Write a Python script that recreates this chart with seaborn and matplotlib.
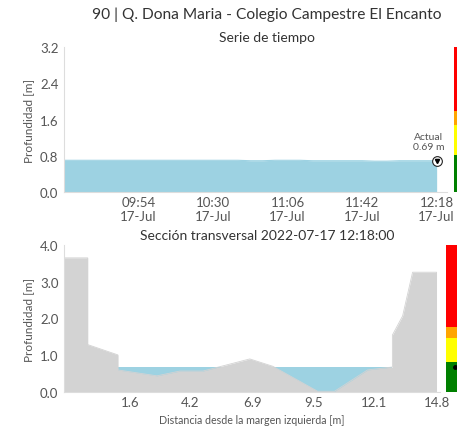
import numpy as np
import pandas as pd
import matplotlib
matplotlib.use("Agg")
import matplotlib.pyplot as plt
import matplotlib.dates as mdates
import seaborn as sns

# serie de tiempo (nivel cada 6 minutos)
times = pd.date_range("2022-07-17 09:18", "2022-07-17 12:18", freq="6min")
depth = [0.70, 0.70, 0.70, 0.70, 0.70, 0.70, 0.70, 0.70, 0.70, 0.70,
         0.70, 0.70, 0.70, 0.70, 0.70, 0.69, 0.69, 0.70, 0.70, 0.70,
         0.69, 0.69, 0.69, 0.69, 0.69, 0.68, 0.68, 0.69, 0.69, 0.69, 0.69]
actual = 0.69

# seccion transversal
dist = [-1.24, -0.22, -0.22, 1.08, 1.08, 2.76, 3.75, 4.74, 6.76, 7.75,
        9.68, 10.41, 11.83, 12.90, 12.90, 13.34, 13.77, 14.80, 14.80]
ground = [3.65, 3.65, 1.29, 1.01, 0.60, 0.44, 0.57, 0.57, 0.90, 0.70,
          0.02, 0.02, 0.60, 0.68, 1.55, 2.07, 3.26, 3.26, 0.0]
water_x = [1.08, 12.90]
xticks_sec = [1.6, 4.2, 6.9, 9.5, 12.1, 14.8]

# umbrales de alerta
limits = [0.0, 0.82, 1.47, 1.78]
alert_colors = ["green", "yellow", "orange", "red"]

water_c = "#9dd2e2"
ground_c = "#d3d3d3"
txt_c = "#555555"

sns.set_style("white")
plt.rcParams["font.family"] = ["Lato", "DejaVu Sans"]
plt.rcParams["axes.edgecolor"] = "#dddddd"
plt.rcParams["xtick.color"] = "#444444"
plt.rcParams["ytick.color"] = "#cccccc"
plt.rcParams["xtick.labelcolor"] = txt_c
plt.rcParams["ytick.labelcolor"] = txt_c

W, H = 457, 427
fig = plt.figure(figsize=(W / 100, H / 100), dpi=100)

def box(l, t, r, b):
    return [l / W, 1 - b / H, (r - l) / W, (b - t) / H]

# ---- serie de tiempo
ax1 = fig.add_axes(box(64, 48, 447, 193))
df = pd.DataFrame({"t": times, "d": depth})
sns.lineplot(data=df, x="t", y="d", ax=ax1, color=water_c, lw=0.8, estimator=None)
ax1.fill_between(times, 0, depth, color=water_c, lw=0)
ax1.set_xlim(times[0], times[-1] + pd.Timedelta(minutes=5))
ax1.set_ylim(0, 3.2)
ax1.set_yticks([0.0, 0.8, 1.6, 2.4, 3.2])
ax1.set_yticklabels(["0.0", "0.8", "1.6", "2.4", "3.2"], fontsize=9.5)
ax1.set_xticks(times[6::6])
ax1.xaxis.set_major_formatter(mdates.DateFormatter("%H:%M\n%d-%b"))
ax1.tick_params(axis="x", direction="in", length=2, labelsize=9.5, pad=3)
ax1.tick_params(axis="y", direction="out", length=2, pad=2)
ax1.set_xlabel("")
ax1.set_ylabel("Profundidad [m]", fontsize=8.5, color=txt_c, labelpad=4)
for s in ["top", "right"]:
    ax1.spines[s].set_visible(False)
ax1.plot(times[-1], actual, "o", ms=7, mfc="white", mec="#222222", mew=0.8, zorder=5)
ax1.plot(times[-1], actual + 0.005, "v", ms=3, color="black", zorder=6)
ax1.text(times[-1] - pd.Timedelta(minutes=4), actual + 0.22, "Actual\n0.69 m",
         ha="center", va="bottom", fontsize=7.5, color=txt_c, linespacing=1.1)

cb1 = fig.add_axes(box(454, 48, 463, 193))
tops1 = limits[1:] + [3.2]
for lo, hi, c in zip(limits, tops1, alert_colors):
    cb1.bar(0, hi - lo, bottom=lo, width=1, color=c, lw=0)
cb1.set_xlim(-0.5, 0.5)
cb1.set_ylim(0, 3.2)
cb1.axis("off")

# ---- seccion transversal
ax2 = fig.add_axes(box(64, 246, 440, 393))
ax2.fill_between(water_x, 0, actual, color=water_c, lw=0)
sec = pd.DataFrame({"x": dist, "g": ground})
sns.lineplot(data=sec, x="x", y="g", ax=ax2, color=ground_c, lw=0.6,
             sort=False, estimator=None)
ax2.fill_between(dist, 0, ground, color=ground_c, lw=0)
ax2.set_xlim(-1.24, 14.95)
ax2.set_ylim(0, 4.0)
ax2.set_xticks(xticks_sec)
ax2.set_xticklabels([f"{v:.1f}" for v in xticks_sec], fontsize=9.5)
ax2.set_yticks([0, 1, 2, 3, 4])
ax2.set_yticklabels(["0.0", "1.0", "2.0", "3.0", "4.0"], fontsize=9.5)
ax2.tick_params(axis="x", direction="in", length=2, pad=3)
ax2.tick_params(axis="y", direction="out", length=2, pad=2)
ax2.set_xlabel("Distancia desde la margen izquierda [m]", fontsize=7.7, color=txt_c, labelpad=4)
ax2.set_ylabel("Profundidad [m]", fontsize=8.5, color=txt_c, labelpad=4)
for s in ["top", "right"]:
    ax2.spines[s].set_visible(False)

cb2 = fig.add_axes(box(446, 246, 464, 393))
tops2 = limits[1:] + [4.0]
for lo, hi, c in zip(limits, tops2, alert_colors):
    cb2.bar(0, hi - lo, bottom=lo, width=1, color=c, lw=0)
cb2.plot(0, actual, "o", ms=2.5, color="black")
cb2.set_xlim(-0.5, 0.5)
cb2.set_ylim(0, 4.0)
cb2.axis("off")

# titulos
fig.text(267 / W, 1 - 15 / H, "90 | Q. Dona Maria - Colegio Campestre El Encanto",
         ha="center", va="center", fontsize=11.2, color="#333333")
fig.text(267 / W, 1 - 38 / H, "Serie de tiempo", ha="center", va="center",
         fontsize=10, color="#333333")
fig.text(267 / W, 1 - 236 / H, "Sección transversal 2022-07-17 12:18:00",
         ha="center", va="center", fontsize=10, color="#333333")

fig.savefig("out.png", dpi=100)
